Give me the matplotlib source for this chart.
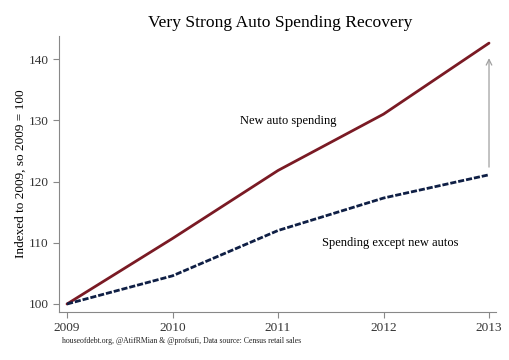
import matplotlib
matplotlib.use("Agg")
import matplotlib.pyplot as plt

years = [2009, 2010, 2011, 2012, 2013]
new_auto = [100, 110.7, 121.8, 131.0, 142.6]
except_auto = [100, 104.6, 112.0, 117.3, 121.1]
yticks = [100, 110, 120, 130, 140]

plt.rcParams['font.family'] = ['Liberation Serif', 'DejaVu Serif']

fig = plt.figure(figsize=(5.1, 3.6), dpi=100)
ax = fig.add_axes([0.1157, 0.1333, 0.8568, 0.7667])

ax.plot(years, new_auto, color='#7a1a24', lw=2.0, solid_capstyle='round')
ax.plot(years, except_auto, color='#0f1f45', lw=2.0, ls=(0, (2.2, 0.7)))

ax.annotate('', xy=(2013, 140.6), xytext=(2013, 121.9),
            arrowprops=dict(arrowstyle='->', color='#a0a0a0', lw=0.9))

ax.text(2011.1, 129.8, 'New auto spending', fontsize=9, ha='center', va='center')
ax.text(2012.06, 110.0, 'Spending except new autos', fontsize=9, ha='center', va='center')

ax.set_xlim(2008.924, 2013.066)
ax.set_ylim(98.69, 143.76)
ax.set_xticks(years)
ax.set_yticks(yticks)
ax.tick_params(labelsize=9.5, colors='#333333', color='#888888', length=4, width=0.8)
for s in ['top', 'right']:
    ax.spines[s].set_visible(False)
for s in ['left', 'bottom']:
    ax.spines[s].set_color('#888888')
    ax.spines[s].set_linewidth(0.8)

ax.set_ylabel('Indexed to 2009, so 2009 = 100', fontsize=9.5)
ax.yaxis.set_label_coords(-0.073, 0.5)
fig.text(0.55, 0.937, 'Very Strong Auto Spending Recovery', fontsize=12.6, ha='center', va='center')
fig.text(0.122, 0.052, 'houseofdebt.org, @AtifRMian & @profsufi, Data source: Census retail sales',
         fontsize=5.6, ha='left', va='center', color='#222222')

fig.savefig('out.png', dpi=100)
